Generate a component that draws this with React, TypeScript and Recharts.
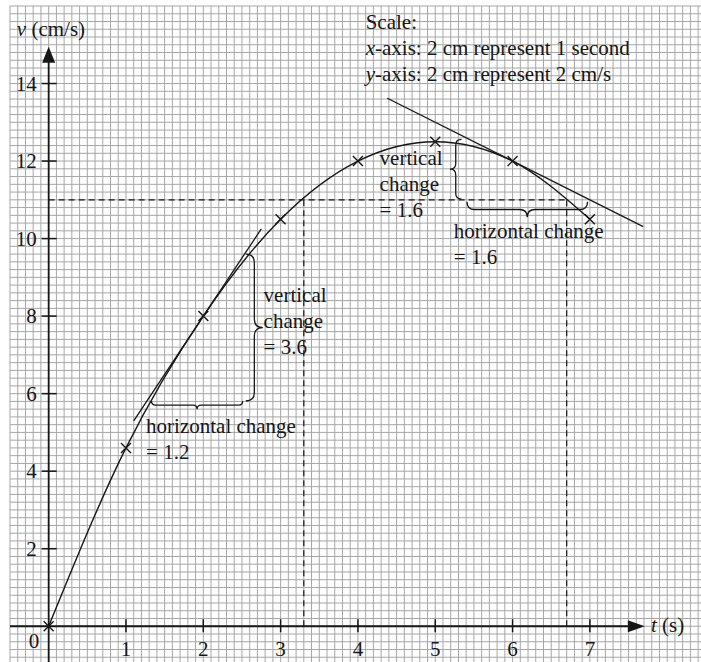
import React from "react";
import {
    LineChart,
    Line,
    XAxis,
    YAxis,
    CartesianGrid,
    ReferenceLine,
    ReferenceDot,
    ReferenceArea,
} from "recharts";

// measured points (crosses)
const times = [0, 1, 2, 3, 4, 5, 6, 7];
const velocities = [0, 4.6, 8, 10.5, 12, 12.5, 12, 10.5];

const tTicks = [1, 2, 3, 4, 5, 6, 7];
const vTicks = [2, 4, 6, 8, 10, 12, 14];

// tangents drawn by hand on the graph
const tangentAt2 = [
    { x: 1.1, y: 5.3 },
    { x: 2.75, y: 10.25 },
];
const tangentAt6 = [
    { x: 4.38, y: 13.62 },
    { x: 7.69, y: 10.31 },
];

const data = times.map((t, i) => ({ t, v: velocities[i] }));

// graph paper: 0.1 s and 0.2 cm/s squares
const gridT: number[] = [];
for (let i = -5; i <= 84; i++) gridT.push(i / 10);
const gridV: number[] = [];
for (let i = -5; i <= 80; i++) gridV.push(i / 5);

const INK = "#161616";
const FONT = "Liberation Serif";
const FS = 21;

function cross(p: any) {
    const { cx, cy, index } = p;
    const s = 5;
    return (
        <path
            key={`c${index}`}
            d={`M${cx - s},${cy - s}L${cx + s},${cy + s}M${cx - s},${cy + s}L${cx + s},${cy - s}`}
            stroke={INK}
            strokeWidth={1.4}
            fill="none"
        />
    );
}

const xTick = (label: string) => (p: any) => (
    <g>
        <line x1={p.cx} x2={p.cx} y1={p.cy - 7} y2={p.cy + 6} stroke={INK} strokeWidth={1.5} />
        <text x={p.cx} y={p.cy + 30} textAnchor="middle" fontFamily={FONT} fontSize={FS} fill={INK}>
            {label}
        </text>
    </g>
);

const yTick = (label: string) => (p: any) => (
    <g>
        <line x1={p.cx - 7} x2={p.cx + 8} y1={p.cy} y2={p.cy} stroke={INK} strokeWidth={1.5} />
        <text x={p.cx - 12} y={p.cy + 7} textAnchor="end" fontFamily={FONT} fontSize={FS} fill={INK}>
            {label}
        </text>
    </g>
);

const note = (lines: React.ReactNode[], anchor: string = "start") => (p: any) => (
    <text x={p.cx} y={p.cy} textAnchor={anchor} fontFamily={FONT} fontSize={FS} fill={INK}>
        {lines.map((l, i) => (
            <tspan key={i} x={p.cx} dy={i === 0 ? 0 : 26}>
                {l}
            </tspan>
        ))}
    </text>
);

const arrowRight = (p: any) => (
    <path d={`M${p.cx},${p.cy}L${p.cx - 17},${p.cy - 6}L${p.cx - 17},${p.cy + 6}Z`} fill={INK} />
);
const arrowUp = (p: any) => (
    <path d={`M${p.cx},${p.cy}L${p.cx - 6.5},${p.cy + 16}L${p.cx + 6.5},${p.cy + 16}Z`} fill={INK} />
);

// curly braces fitted into a ReferenceArea box
const brace = (dir: "down" | "left" | "right") => (p: any) => {
    const { x, y, width: w, height: h } = p;
    let d = "";
    if (dir === "down") {
        const r = h / 2;
        const cx = x + w / 2;
        d = `M${x},${y}Q${x},${y + r} ${x + r},${y + r}L${cx - r},${y + r}Q${cx},${y + r} ${cx},${y + h}` +
            `Q${cx},${y + r} ${cx + r},${y + r}L${x + w - r},${y + r}Q${x + w},${y + r} ${x + w},${y}`;
    } else {
        const r = w / 2;
        const cy = y + h / 2;
        const a = dir === "right" ? x : x + w;
        const b = dir === "right" ? x + w : x;
        const m = x + r;
        d = `M${a},${y}Q${m},${y} ${m},${y + r}L${m},${cy - r}Q${m},${cy} ${b},${cy}` +
            `Q${m},${cy} ${m},${cy + r}L${m},${y + h - r}Q${m},${y + h} ${a},${y + h}`;
    }
    return <path d={d} stroke={INK} strokeWidth={1.3} fill="none" />;
};

export default function App() {
    return (
        <div style={{ position: "absolute", left: 0, top: 0, width: 701, height: 662, overflow: "hidden", background: "#fff" }}>
            <LineChart
                width={702}
                height={665}
                data={data}
                margin={{ top: 6, right: 0, left: 10, bottom: 0 }}
            >
                <XAxis dataKey="t" type="number" domain={[-0.5, 8.45]} ticks={gridT} interval={0} allowDataOverflow hide />
                <YAxis type="number" domain={[-1, 16]} ticks={gridV} interval={0} allowDataOverflow hide />
                <CartesianGrid stroke="#a6a6a6" strokeWidth={1} />

                {/* axes */}
                <ReferenceLine segment={[{ x: -0.5, y: 0 }, { x: 7.5, y: 0 }]} stroke={INK} strokeWidth={1.8} />
                <ReferenceLine segment={[{ x: 0, y: -1 }, { x: 0, y: 14.6 }]} stroke={INK} strokeWidth={1.8} />
                <ReferenceDot x={7.71} y={0} shape={arrowRight} />
                <ReferenceDot x={0} y={14.95} shape={arrowUp} />
                {tTicks.map((t) => (
                    <ReferenceDot key={`t${t}`} x={t} y={0} shape={xTick(String(t))} />
                ))}
                {vTicks.map((v) => (
                    <ReferenceDot key={`v${v}`} x={0} y={v} shape={yTick(String(v))} />
                ))}
                <ReferenceDot x={-0.19} y={-0.57} shape={note(["0"], "middle")} />
                <ReferenceDot x={7.79} y={-0.15} shape={note([<><tspan fontStyle="italic">t</tspan> (s)</>])} />
                <ReferenceDot x={0.03} y={15.22} shape={note([<><tspan fontStyle="italic">v</tspan> (cm/s)</>], "middle")} />

                {/* dashed construction lines */}
                <ReferenceLine segment={[{ x: 0, y: 11 }, { x: 6.7, y: 11 }]} stroke={INK} strokeWidth={1.2} strokeDasharray="6 4" />
                <ReferenceLine segment={[{ x: 3.3, y: 0 }, { x: 3.3, y: 11 }]} stroke={INK} strokeWidth={1.2} strokeDasharray="6 4" />
                <ReferenceLine segment={[{ x: 6.7, y: 0 }, { x: 6.7, y: 11 }]} stroke={INK} strokeWidth={1.2} strokeDasharray="6 4" />

                {/* tangents */}
                <ReferenceLine segment={tangentAt2} stroke={INK} strokeWidth={1.3} />
                <ReferenceLine segment={tangentAt6} stroke={INK} strokeWidth={1.3} />

                {/* braces */}
                <ReferenceArea x1={1.33} x2={2.51} y1={5.6} y2={5.81} shape={brace("down")} />
                <ReferenceArea x1={2.55} x2={2.77} y1={5.81} y2={9.6} shape={brace("right")} />
                <ReferenceArea x1={5.19} x2={5.34} y1={11.02} y2={12.56} shape={brace("left")} />
                <ReferenceArea x1={5.41} x2={6.97} y1={10.55} y2={10.95} shape={brace("down")} />

                {/* annotations */}
                <ReferenceDot x={2.78} y={8.37} shape={note(["vertical", "change", "= 3.6"])} />
                <ReferenceDot x={1.26} y={4.98} shape={note(["horizontal change", "= 1.2"])} />
                <ReferenceDot x={4.28} y={11.89} shape={note(["vertical", "change", "= 1.6"])} />
                <ReferenceDot x={5.24} y={10.01} shape={note(["horizontal change", "= 1.6"])} />
                <ReferenceDot
                    x={4.1}
                    y={15.4}
                    shape={note([
                        "Scale:",
                        <><tspan fontStyle="italic">x</tspan>-axis: 2 cm represent 1 second</>,
                        <><tspan fontStyle="italic">y</tspan>-axis: 2 cm represent 2 cm/s</>,
                    ])}
                />

                <Line
                    type="monotone"
                    dataKey="v"
                    stroke={INK}
                    strokeWidth={1.4}
                    dot={cross}
                    activeDot={false}
                    isAnimationActive={false}
                />
            </LineChart>
        </div>
    );
}
